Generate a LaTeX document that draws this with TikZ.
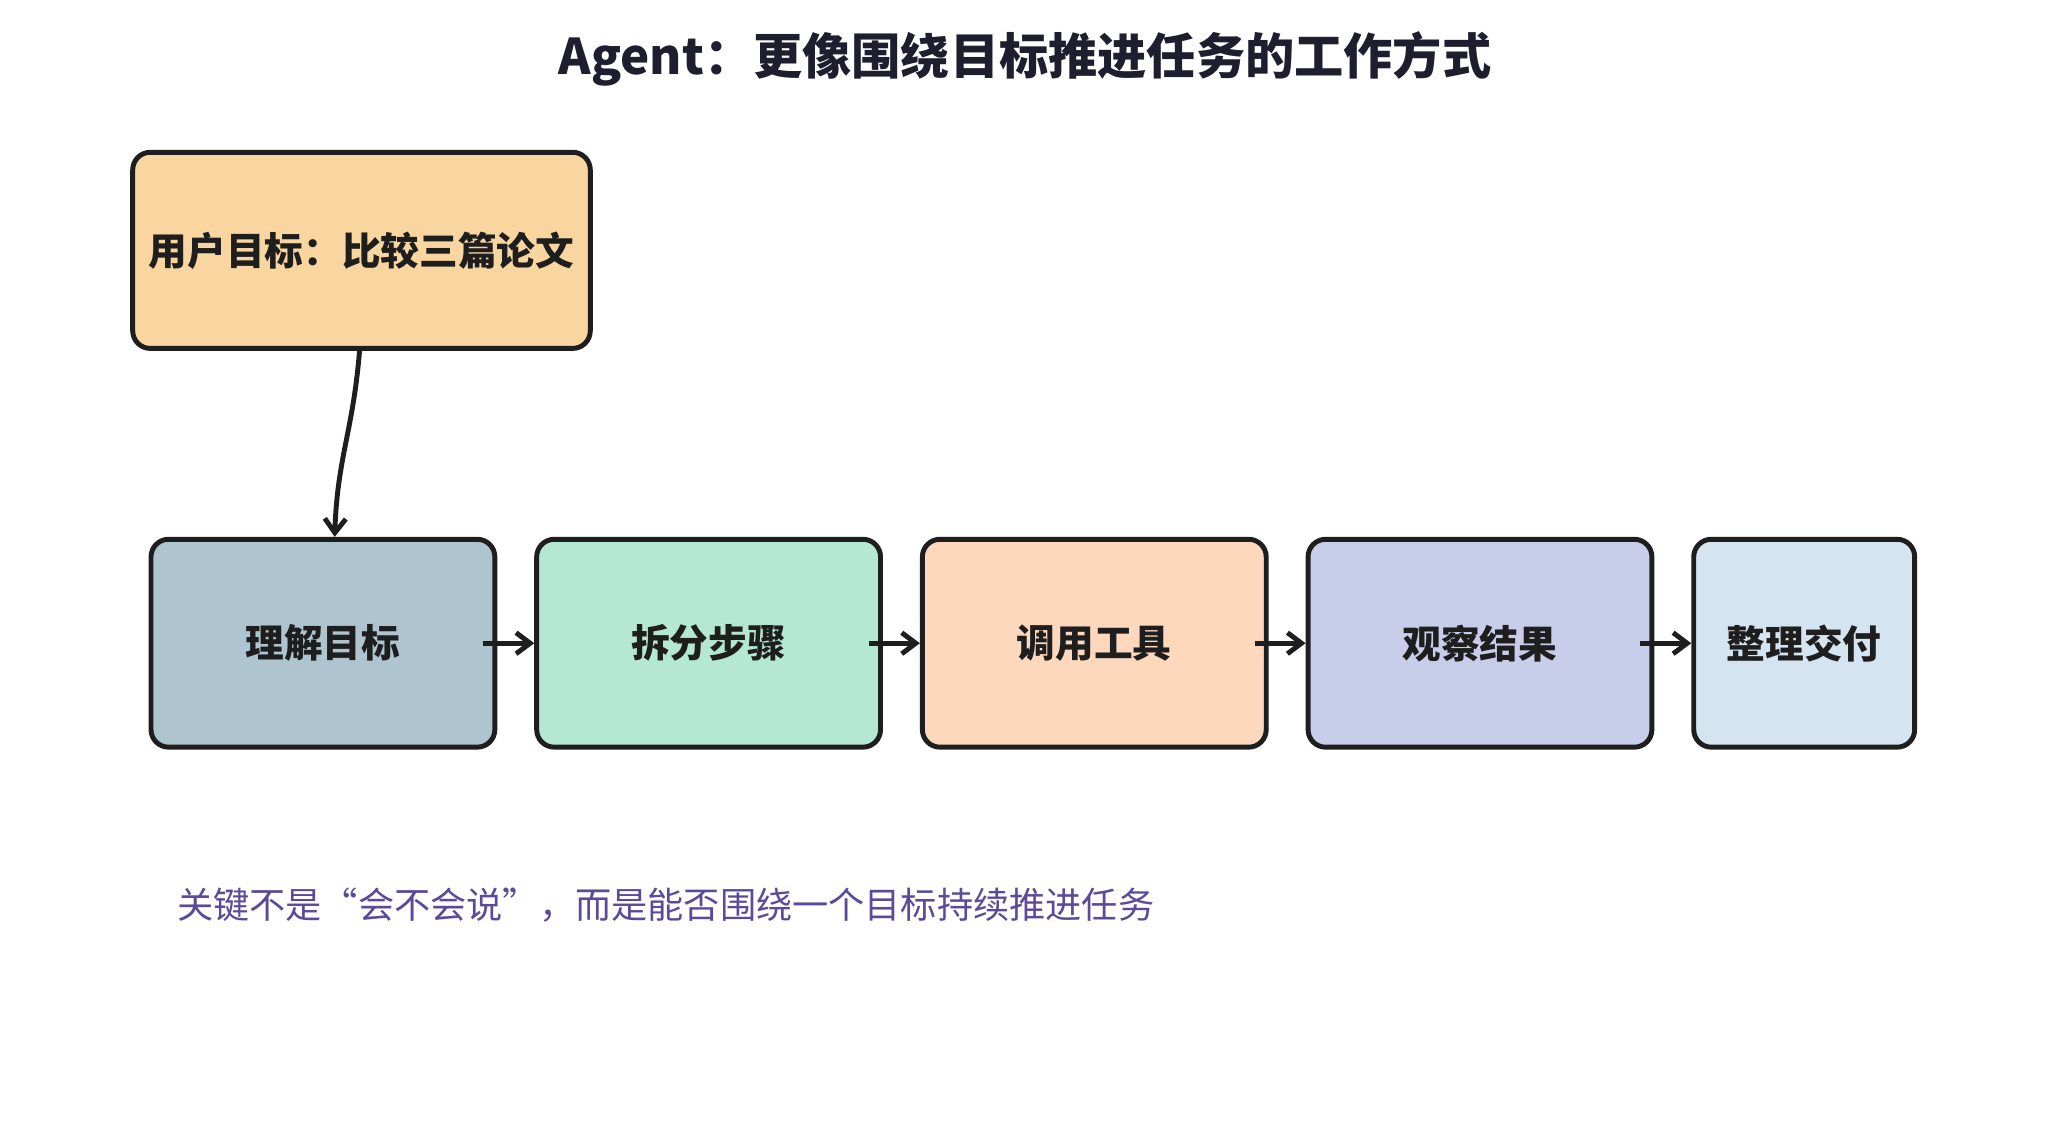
\documentclass[tikz,border=0pt]{standalone}
\usepackage{fontspec}
\setmainfont{Noto Sans CJK SC}
\usetikzlibrary{arrows.meta}
\definecolor{ink}{HTML}{1E1E1E}
\definecolor{ttl}{HTML}{1E1E2E}
\definecolor{cgoal}{HTML}{F9D6A0}
\definecolor{ca}{HTML}{AEC4CE}
\definecolor{cb}{HTML}{B5E8D4}
\definecolor{cc}{HTML}{FDD8BD}
\definecolor{cd}{HTML}{C8CEEA}
\definecolor{ce}{HTML}{D4E4F0}
\definecolor{note}{HTML}{5B4A9A}
\begin{document}
\begin{tikzpicture}[x=0.013074cm,y=-0.013074cm,
  box/.style={draw=ink,line width=1.4pt,rounded corners=5pt,inner sep=0pt,
    font=\bfseries\fontsize{11}{14}\selectfont,text=ink},
  arr/.style={draw=ink,line width=1.4pt,-{Straight Barb[length=4pt,width=6pt]}}]
\useasboundingbox (0,0) rectangle (1568,873);
\node[font=\bfseries\fontsize{14}{16}\selectfont,text=ttl] (title) at (784,45) {Agent：更像围绕目标推进任务的工作方式};
\node[box,fill=cgoal,minimum width=350*0.013074cm,minimum height=150*0.013074cm] (goal) at (276.5,191.5) {用户目标：比较三篇论文};
\foreach \n/\x/\w/\c/\t in {a/247/263/ca/理解目标,b/542/263/cb/拆分步骤,c/837/263/cc/调用工具,d/1132/263/cd/观察结果,e/1380/169/ce/整理交付}{
  \node[box,fill=\c,minimum width=\w*0.013074cm,minimum height=159*0.013074cm] (\n) at (\x,492) {\t};
}
\draw[arr] (goal.south -| 275,0) .. controls (270,330) and (258,350) .. (a.north -| 256,0);
\draw[arr] ([xshift=-4pt]a.east) -- (b);
\draw[arr] ([xshift=-4pt]b.east) -- (c);
\draw[arr] ([xshift=-4pt]c.east) -- (d);
\draw[arr] ([xshift=-4pt]d.east) -- (e);
\node[anchor=west,text=note,font=\fontsize{10.3}{12}\selectfont] (n) at (126,692) {关键不是“会不会说”，而是能否围绕一个目标持续推进任务};
\end{tikzpicture}
\end{document}
